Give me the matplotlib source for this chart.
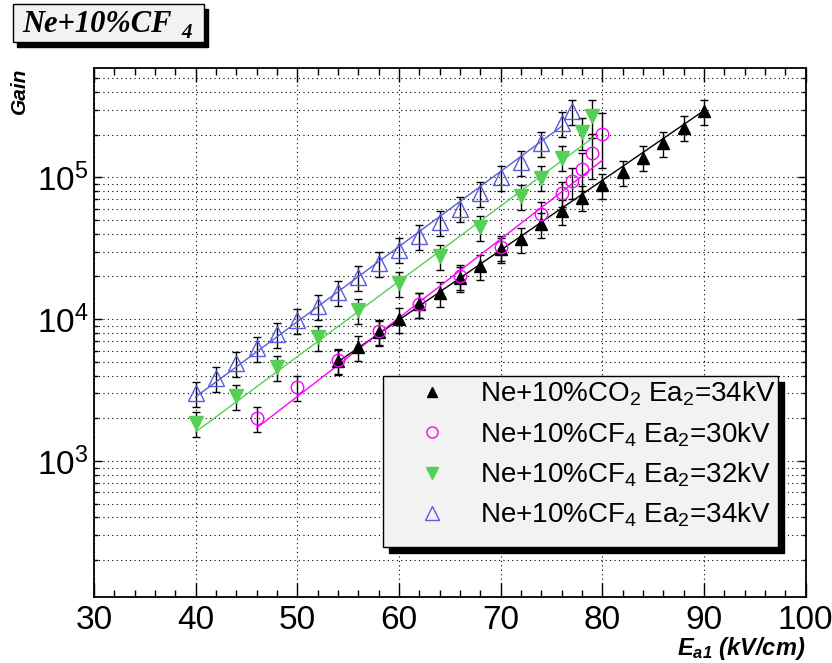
import matplotlib as mpl
mpl.use("Agg")
import matplotlib.pyplot as plt
import numpy as np
from matplotlib.patches import Rectangle
from matplotlib.lines import Line2D
from matplotlib.ticker import LogLocator, MultipleLocator, NullFormatter

mpl.rcParams['font.family'] = 'Liberation Sans'
mpl.rcParams['mathtext.fontset'] = 'custom'
mpl.rcParams['mathtext.rm'] = 'Liberation Sans'
mpl.rcParams['mathtext.it'] = 'Liberation Sans:italic'
mpl.rcParams['mathtext.bf'] = 'Liberation Sans:bold:italic'

W, H = 832, 663

# Ne+10%CO2, Ea2=34kV
x_co2 = [54, 56, 58, 60, 62, 64, 66, 68, 70, 72, 74, 76, 78, 80, 82, 84, 86, 88, 90]
g_co2 = [5080, 6380, 8150, 9950, 12700, 15300, 19400, 23600, 31000, 36500,
         46700, 57900, 71900, 87800, 109000, 137700, 174500, 224000, 291600]
e_co2 = [0.2] * 19

# Ne+10%CF4, Ea2=30kV
x_cf30 = [46, 50, 54, 58, 62, 66, 70, 74, 76, 77, 78, 79, 80]
g_cf30 = [2018, 3306, 5140, 8280, 12770, 20100, 32300, 55500, 77400, 93700,
          115100, 149300, 201000]
e_cf30 = [0.2, 0.2, 0.2, 0.2, 0.2, 0.2, 0.2, 0.2, 0.2, 0.25, 0.3, 0.35, 0.42]

# Ne+10%CF4, Ea2=32kV
x_cf32 = [40, 44, 48, 52, 56, 60, 64, 68, 72, 74, 76, 78, 79]
g_cf32 = [1841, 2884, 4610, 7430, 11560, 18040, 27900, 44300, 73800, 99500,
          137700, 208500, 269000]
e_cf32 = [0.2] * 11 + [0.25, 0.3]

# Ne+10%CF4, Ea2=34kV
x_cf34 = [40, 42, 44, 46, 48, 50, 52, 54, 56, 58, 60, 62, 64, 66, 68, 70, 72, 74, 76, 77]
g_cf34 = [3000, 3820, 4920, 6220, 7830, 9840, 12350, 15550, 19870, 24950,
          30960, 38460, 48400, 60100, 77400, 100400, 128300, 174500, 241000, 291600]
e_cf34 = [0.2] * 20

# exponential fits: log10(G) = a + b*x, drawn over [x0, x1]
fit_co2 = (54, 90, 1.043, 0.0492)
fit_cf30 = (46, 80, 0.680, 0.0555)
fit_cf32 = (40, 79, 1.081, 0.0531)
fit_cf34 = (40, 76, 1.332, 0.0530)

labels = ['Ne+10%CO$_2$ Ea$_2$=34kV', 'Ne+10%CF$_4$ Ea$_2$=30kV',
          'Ne+10%CF$_4$ Ea$_2$=32kV', 'Ne+10%CF$_4$ Ea$_2$=34kV']

blue = '#5b5bdc'
green = '#55d055'
magenta = '#ff00ff'

fig = plt.figure(figsize=(W / 100, H / 100), dpi=100)
ax = fig.add_axes([94 / W, 1 - 597 / H, (805.7 - 94) / W, (597 - 68) / H])

ax.set_yscale('log')
ax.set_xlim(30, 100)
ax.set_ylim(110, 5.9e5)

# grid
grid_kw = dict(color='black', lw=0.8, ls=(0, (1, 3)))
ax.xaxis.grid(True, which='major', **grid_kw)
ax.yaxis.grid(True, which='both', **grid_kw)
ax.set_axisbelow(True)

series = [
    (x_co2, g_co2, e_co2, fit_co2, dict(marker='^', color='black', ms=8.5, mfc='black', mec='black')),
    (x_cf30, g_cf30, e_cf30, fit_cf30, dict(marker='o', color=magenta, ms=9, mfc='none', mec=magenta, mew=1.0)),
    (x_cf32, g_cf32, e_cf32, fit_cf32, dict(marker='v', color=green, ms=10, mfc=green, mec=green)),
    (x_cf34, g_cf34, e_cf34, fit_cf34, dict(marker='^', color=blue, ms=11, mfc='none', mec=blue, mew=1.0)),
]

for x, g, e, fit, mk in series:
    x = np.array(x)
    g = np.array(g, dtype=float)
    err = g * np.array(e)
    ax.errorbar(x, g, yerr=err, fmt='none', ecolor='black', elinewidth=1.0,
                capsize=3, capthick=1.0, zorder=3)
    x0, x1, a, b = fit
    xf = np.array([x0, x1])
    ax.plot(xf, 10 ** (a + b * xf), color=mk['color'], lw=1.0, zorder=4)
    ax.plot(x, g, ls='none', zorder=5, **mk)

# ticks
ax.xaxis.set_major_locator(MultipleLocator(10))
ax.xaxis.set_minor_locator(MultipleLocator(2))
ax.yaxis.set_major_locator(LogLocator(base=10))
ax.yaxis.set_minor_locator(LogLocator(base=10, subs=np.arange(2, 10)))
ax.yaxis.set_minor_formatter(NullFormatter())
ax.tick_params(which='both', direction='in', top=True, right=True, labelsize=24, width=1)
ax.tick_params(axis='x', which='major', length=10, pad=6)
ax.tick_params(axis='x', which='minor', length=5)
ax.tick_params(axis='y', which='major', length=6, pad=4)
ax.tick_params(axis='y', which='minor', length=3)
for s in ax.spines.values():
    s.set_linewidth(1.3)

# axis titles
fig.text(805 / W, 1 - 655 / H, r'$\mathbf{E}_{\mathbf{a1}}$ (kV/cm)', ha='right', va='baseline',
         fontsize=17, fontweight='bold', style='italic')
fig.text(19 / W, 1 - 68 / H, 'Gain', rotation=90, ha='center', va='top',
         fontsize=15, fontweight='bold', style='italic')

# title box
def px_rect(x0, y0, x1, y1, **kw):
    return Rectangle((x0 / W, 1 - y1 / H), (x1 - x0) / W, (y1 - y0) / H,
                     transform=fig.transFigure, **kw)

fig.add_artist(px_rect(17, 9, 208, 47, facecolor='black', edgecolor='black', zorder=10))
fig.add_artist(px_rect(13, 4, 204, 42, facecolor='#f2f2f2', edgecolor='black', lw=1.0, zorder=11))
fig.text(22 / W, 1 - 32 / H, 'Ne+10%CF', fontsize=22, fontweight='bold', style='italic',
         family='Liberation Serif', ha='left', va='baseline', zorder=12)
fig.text(181 / W, 1 - 38 / H, '4', fontsize=15, fontweight='bold', style='italic',
         family='Liberation Serif', ha='left', va='baseline', zorder=12)

# legend box
fig.add_artist(px_rect(389, 382, 784, 553, facecolor='black', edgecolor='black', zorder=10))
fig.add_artist(px_rect(383, 376, 778, 547, facecolor='#f2f2f2', edgecolor='black', lw=1.0, zorder=11))
handles = [
    Line2D([], [], ls='none', marker='^', ms=7, color='black'),
    Line2D([], [], ls='none', marker='o', ms=8, mfc='none', mec=magenta, mew=1.0),
    Line2D([], [], ls='none', marker='v', ms=9, color=green),
    Line2D([], [], ls='none', marker='^', ms=10, mfc='none', mec=blue, mew=1.0),
]
leg = fig.legend(handles, labels, loc='upper left', bbox_to_anchor=(418 / W, 1 - 380 / H),
                 frameon=False, fontsize=20, handlelength=1.0, handletextpad=1.23,
                 borderpad=0, borderaxespad=0, labelspacing=0.42)
leg.set_zorder(12)

fig.savefig('out.png', dpi=100)
